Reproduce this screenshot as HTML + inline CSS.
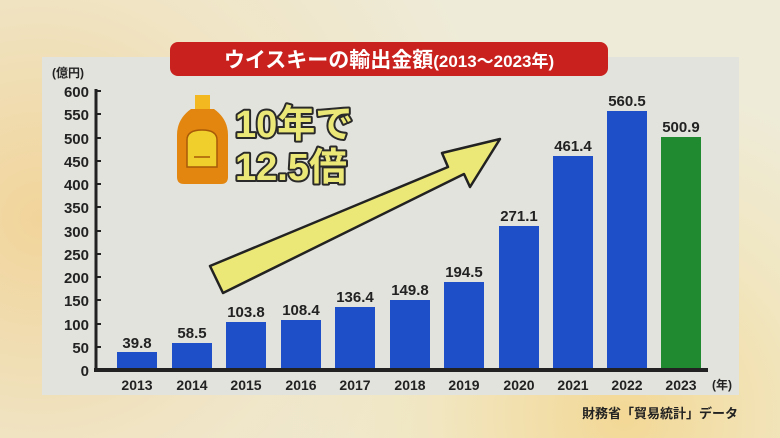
<!DOCTYPE html>
<html><head><meta charset="utf-8"><style>
body{margin:0;width:780px;height:438px;overflow:hidden;font-family:"Liberation Sans","Noto Sans CJK JP",sans-serif;
background:radial-gradient(circle at 80% 95%,#f3d896 0,#f1e6c0 25%,rgba(0,0,0,0) 45%),radial-gradient(circle at 5% 50%,#f1d49a 0,#f0e4c4 30%,#eeebd8 60%),#eeecd8;}
</style></head><body>
<svg width="780" height="438" style="position:absolute;left:0;top:0" font-family="Liberation Sans, Noto Sans CJK JP, sans-serif">
<rect x="42" y="57" width="697" height="338" fill="#e3e3dd"/>
<rect x="170" y="42" width="438" height="34" rx="8" fill="#c8211e"/>
<text x="389" y="67" text-anchor="middle" fill="#fff" font-size="21" font-weight="bold">ウイスキーの輸出金額<tspan font-size="17">(2013〜2023年)</tspan></text>
<text x="52" y="77" font-size="12" font-weight="bold" fill="#222">(億円)</text>
<g font-size="15" font-weight="bold" fill="#222" text-anchor="end">
<text x="89" y="97">600</text><text x="89" y="120">550</text><text x="89" y="144">500</text><text x="89" y="167">450</text><text x="89" y="190">400</text><text x="89" y="213">350</text><text x="89" y="237">300</text><text x="89" y="260">250</text><text x="89" y="283">200</text><text x="89" y="306">150</text><text x="89" y="330">100</text><text x="89" y="353">50</text><text x="89" y="376">0</text>
</g>
<line x1="96" y1="89" x2="96" y2="372" stroke="#222" stroke-width="3"/>
<g stroke="#222" stroke-width="2">
<line x1="96" y1="91" x2="101" y2="91"/><line x1="96" y1="114" x2="101" y2="114"/><line x1="96" y1="138" x2="101" y2="138"/><line x1="96" y1="161" x2="101" y2="161"/><line x1="96" y1="184" x2="101" y2="184"/><line x1="96" y1="207" x2="101" y2="207"/><line x1="96" y1="231" x2="101" y2="231"/><line x1="96" y1="254" x2="101" y2="254"/><line x1="96" y1="277" x2="101" y2="277"/><line x1="96" y1="300" x2="101" y2="300"/><line x1="96" y1="324" x2="101" y2="324"/><line x1="96" y1="347" x2="101" y2="347"/>
</g>
<g fill="#1f4fc8">
<rect x="117" y="352" width="40" height="18"/>
<rect x="172" y="343" width="40" height="27"/>
<rect x="226" y="322" width="40" height="48"/>
<rect x="281" y="320" width="40" height="50"/>
<rect x="335" y="307" width="40" height="63"/>
<rect x="390" y="300" width="40" height="70"/>
<rect x="444" y="282" width="40" height="88"/>
<rect x="499" y="226" width="40" height="144"/>
<rect x="553" y="156" width="40" height="214"/>
<rect x="607" y="111" width="40" height="259"/>
</g>
<rect x="661" y="137" width="40" height="233" fill="#1f8a30"/>
<line x1="94" y1="370" x2="708" y2="370" stroke="#222" stroke-width="4"/>
<g font-size="15" font-weight="bold" fill="#222" text-anchor="middle">
<text x="137" y="348">39.8</text><text x="192" y="338">58.5</text><text x="246" y="317">103.8</text><text x="301" y="315">108.4</text><text x="355" y="302">136.4</text><text x="410" y="295">149.8</text><text x="464" y="277">194.5</text><text x="519" y="221">271.1</text><text x="573" y="151">461.4</text><text x="627" y="106">560.5</text><text x="681" y="132">500.9</text>
</g>
<g font-size="14" font-weight="bold" fill="#222" text-anchor="middle">
<text x="137" y="390">2013</text><text x="192" y="390">2014</text><text x="246" y="390">2015</text><text x="301" y="390">2016</text><text x="355" y="390">2017</text><text x="410" y="390">2018</text><text x="464" y="390">2019</text><text x="519" y="390">2020</text><text x="573" y="390">2021</text><text x="627" y="390">2022</text><text x="681" y="390">2023</text>
<text x="722" y="389" font-size="12">(年)</text>
</g>
<polygon points="210,266 448,167 442,153 500,139 470,187 464,174 223,293" fill="#ece878" stroke="#222" stroke-width="2.5" stroke-linejoin="round"/>
<rect x="195" y="95" width="15" height="14" fill="#f3b820"/>
<path d="M191,109 h23 q14,10 14,26 v42 q0,7 -7,7 h-37 q-7,0 -7,-7 v-42 q0,-16 14,-26z" fill="#e2860f"/>
<path d="M187,140 q0,-10 15,-10 q15,0 15,10 v27 h-30z" fill="#f0cf2c" stroke="#a85a08" stroke-width="1.5"/>
<line x1="194" y1="157" x2="210" y2="157" stroke="#a85a08" stroke-width="1.5"/>
<g font-size="38" font-weight="bold" fill="#ece878" stroke="#2a2a2a" stroke-width="4" paint-order="stroke" stroke-linejoin="round">
<text x="235" y="137">10年で</text><text x="235" y="180">12.5倍</text>
</g>
<text x="738" y="418" text-anchor="end" font-size="13" font-weight="bold" fill="#222">財務省「貿易統計」データ</text>
</svg>
</body></html>
